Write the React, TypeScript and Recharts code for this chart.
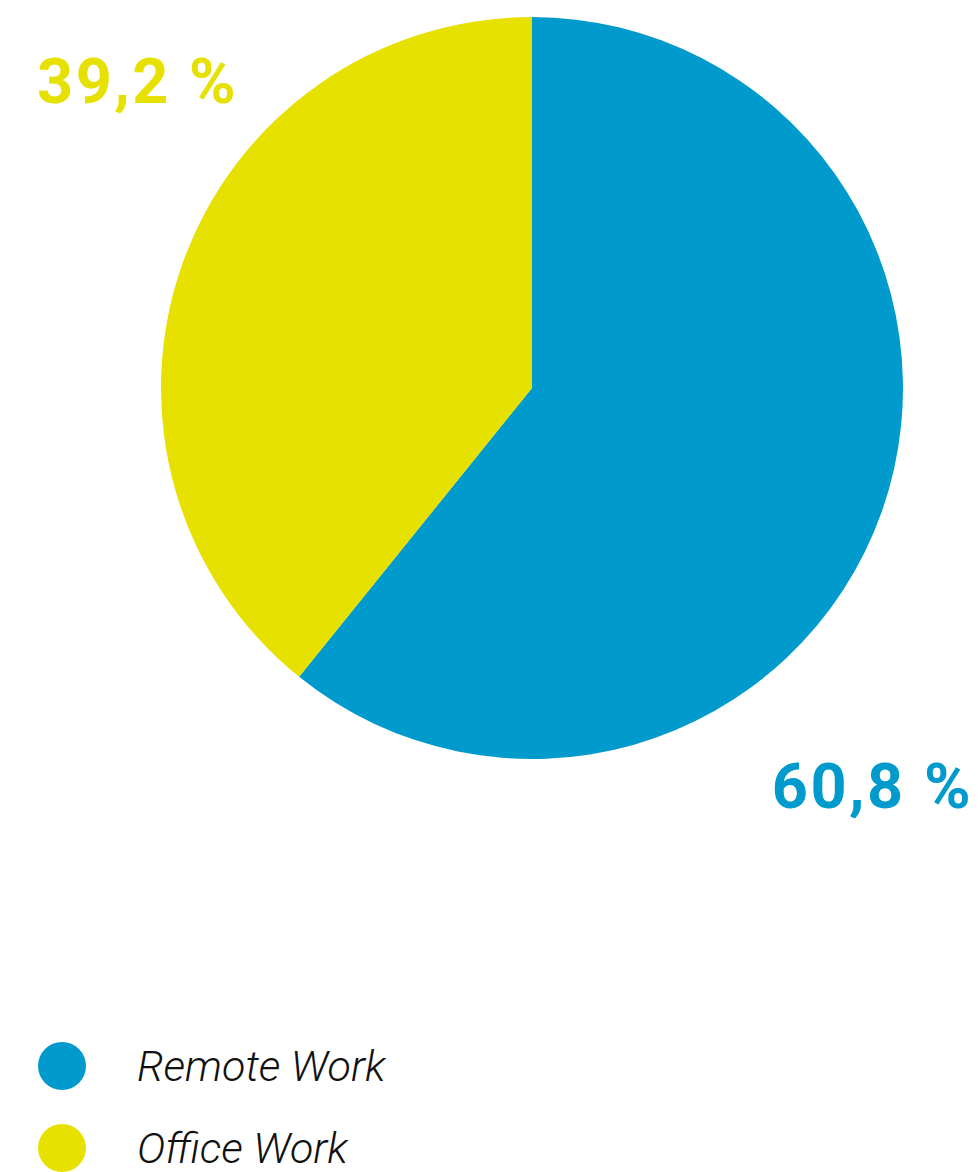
import { PieChart, Pie, Cell, Legend } from "recharts";

const CATEGORIES = ["Remote Work", "Office Work"];
const SHARES = [60.8, 39.2];
const COLORS = ["#009acd", "#e6e100"];

const DATA = CATEGORIES.map((name, i) => ({ name, value: SHARES[i] }));

const fmt = (v: number) => v.toFixed(1).replace(".", ",") + " %";

function renderLabel(props: any) {
  const { cx, cy, outerRadius, index, value } = props;
  // remote work label sits bottom-right, office work top-left
  const right = index === 0;
  const x = right ? cx + outerRadius + 70 : cx - outerRadius - 124;
  const y = right ? cy + outerRadius + 49 : cy - outerRadius + 86;
  return (
    <text
      key={`lbl-${index}`}
      x={x}
      y={y}
      textAnchor={right ? "end" : "start"}
      fill={COLORS[index]}
      fontFamily="Roboto, sans-serif"
      fontWeight={700}
      fontSize={63}
      letterSpacing={2.5}
    >
      {fmt(value)}
    </text>
  );
}

function LegendContent() {
  return (
    <div style={{ display: "flex", flexDirection: "column", gap: 34 }}>
      {CATEGORIES.map((c, i) => (
        <div key={c} style={{ display: "flex", alignItems: "center", height: 48 }}>
          <span
            style={{
              width: 48,
              height: 48,
              borderRadius: "50%",
              background: COLORS[i],
              display: "inline-block",
              flexShrink: 0,
            }}
          />
          <span
            style={{
              marginLeft: 51,
              fontFamily: "Roboto, sans-serif",
              fontStyle: "italic",
              fontWeight: 300,
              fontSize: 43,
              color: "#111",
              whiteSpace: "nowrap",
            }}
          >
            {c}
          </span>
        </div>
      ))}
    </div>
  );
}

export default function App() {
  return (
    <div style={{ position: "absolute", left: 0, top: 0, background: "#fff" }}>
      <PieChart width={978} height={1172} margin={{ top: 0, right: 0, bottom: 0, left: 0 }}>
        <Pie
          data={DATA}
          dataKey="value"
          nameKey="name"
          cx={532}
          cy={388}
          outerRadius={371}
          startAngle={90}
          endAngle={-270}
          stroke="none"
          label={renderLabel}
          labelLine={false}
          isAnimationActive={false}
        >
          {DATA.map((d, i) => (
            <Cell key={d.name} fill={COLORS[i]} />
          ))}
        </Pie>
        <Legend
          content={<LegendContent />}
          layout="vertical"
          wrapperStyle={{ position: "absolute", left: 38, top: 1042, width: 500 }}
        />
      </PieChart>
    </div>
  );
}
